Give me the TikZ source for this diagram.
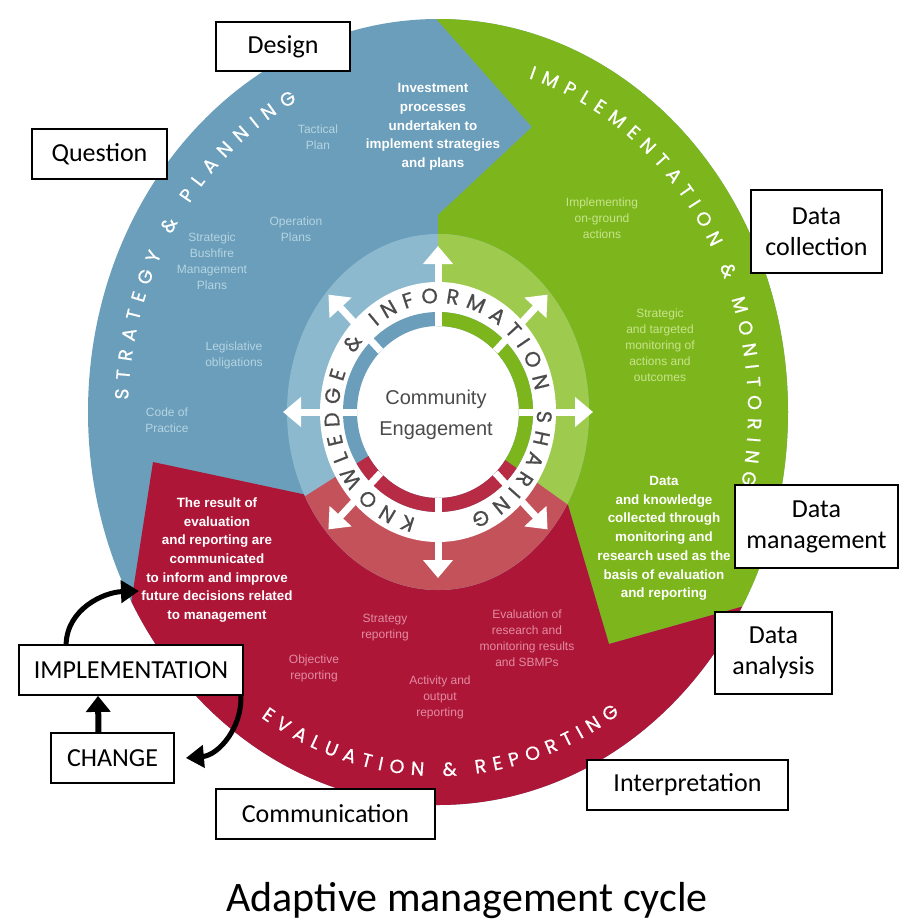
\documentclass[tikz,border=0pt]{standalone}
\usepackage{fontspec}
\setmainfont{Liberation Sans}
\newfontfamily\boxfont{Carlito}
\newfontfamily\capfont{Poppins}[FakeBold=0.7]
\usetikzlibrary{arrows.meta,decorations.text}

\definecolor{planblue}{RGB}{106,158,186}
\definecolor{actgreen}{RGB}{125,182,28}
\definecolor{evalred}{RGB}{174,22,56}
\definecolor{lightblue}{RGB}{140,185,205}
\definecolor{lightgreen}{RGB}{158,203,78}
\definecolor{lightred}{RGB}{196,82,90}
\definecolor{bandred}{RGB}{184,43,68}
\definecolor{ringgray}{RGB}{75,75,75}
\definecolor{paleblue}{RGB}{182,212,226}
\definecolor{palegreen}{RGB}{200,228,140}
\definecolor{palered}{RGB}{226,140,160}

\tikzset{
  stage/.style={draw=black, line width=1.8pt, fill=white, align=center, inner sep=0pt,
    font=\boxfont\fontsize{26}{31}\selectfont},
  note/.style={align=center, inner sep=0pt, text=#1, font=\fontsize{12}{16}\selectfont},
  lead/.style={align=center, inner sep=0pt, text=white, font=\bfseries\fontsize{13.4}{18.7}\selectfont},
  spoke/.style={draw=white, line width=7pt, -{Triangle[length=18pt,width=29pt]}},
  turn/.style={line width=5pt, -{Triangle[length=18pt,width=22pt]}},
  arctext/.style 2 args={decorate, decoration={text along path, text align={fit to path},
    text color=#1, text={#2}}}
}

\begin{document}
\begin{tikzpicture}[x=1pt, y=1pt]
  \useasboundingbox (0,0) rectangle (908,-922);

  \begin{scope}[shift={(438,-412)}]
    \fill[planblue] (0,0) ellipse[x radius=350, y radius=393];
    \begin{scope}
      \clip (0,0) ellipse[x radius=350, y radius=393];
      \fill[actgreen] (0,0) -- (0,197) -- (94,285) -- (-23,417) -- (470,417) -- (470,-148)
        -- (171,-232) -- (130,-93) -- cycle;
      \fill[evalred] (0,0) -- (130,-93) -- (171,-232) -- (470,-148) -- (470,-540)
        -- (-361,-540) -- (-285,-50) -- (-131,-83) -- cycle;
    \end{scope}

    \fill[lightblue] (0,0) ellipse[x radius=151, y radius=178];
    \begin{scope}
      \clip (0,0) ellipse[x radius=151, y radius=178];
      \fill[lightgreen] (0,0) -- (0,200) -- (210,200) -- (210,-150) -- cycle;
      \fill[lightred] (0,0) -- (210,-150) -- (210,-200) -- (-210,-200) -- (-210,-133) -- cycle;
    \end{scope}

    \fill[white] (0,0) ellipse[x radius=118, y radius=130];
    \begin{scope}[even odd rule]
      \clip (0,0) ellipse[x radius=95, y radius=100] (0,0) ellipse[x radius=81, y radius=86];
      \fill[planblue] (-120,-120) rectangle (120,120);
      \fill[actgreen] (0,0) -- (0,200) -- (210,200) -- (210,-150) -- cycle;
      \fill[bandred] (0,0) -- (210,-150) -- (210,-200) -- (-210,-200) -- (-210,-133) -- cycle;
    \end{scope}

    \foreach \a in {0,45,...,315}
      \draw[spoke] (\a:81 and 86) -- (\a:155 and 166);

    \path[arctext={ringgray}{|\capfont\fontsize{21}{21}\selectfont|KNOWLEDGE {\&} INFORMATION SHARING}]
      (257:99 and 109) arc[start angle=257, end angle=-71, x radius=99, y radius=109];

    \path[arctext={white}{|\capfont\fontsize{19}{19}\selectfont|STRATEGY {\&} PLANNING}]
      (178:310 and 349) arc[start angle=178, end angle=117, x radius=310, y radius=349];
    \path[arctext={white}{|\capfont\fontsize{19}{19}\selectfont|IMPLEMENTATION {\&} MONITORING}]
      (73:310 and 349) arc[start angle=73, end angle=-12, x radius=310, y radius=349];
    \path[arctext={white}{|\capfont\fontsize{19}{19}\selectfont|EVALUATION {\&} REPORTING}]
      (237:325 and 364) arc[start angle=237, end angle=304, x radius=325, y radius=364];
  \end{scope}

  \node[font=\fontsize{20}{31}\selectfont, text=ringgray, align=center, inner sep=0pt] (ce) at (436,-415)
    {Community\\Engagement};

  \node[note=paleblue] (tac) at (318,-137) {Tactical\\Plan};
  \node[note=paleblue] (op) at (296,-229) {Operation\\Plans};
  \node[note=paleblue] (sbmp) at (212,-261) {Strategic\\Bushfire\\Management\\Plans};
  \node[note=paleblue] (leg) at (234,-355) {Legislative\\obligations};
  \node[note=paleblue] (code) at (167,-420) {Code of\\Practice};
  \node[lead] (inv) at (433,-127) {Investment\\processes\\undertaken to\\implement strategies\\and plans};

  \node[note=palegreen] (impg) at (602,-218) {Implementing\\on-ground\\actions};
  \node[note=palegreen] (mon) at (660,-345) {Strategic\\and targeted\\monitoring of\\actions and\\outcomes};
  \node[lead] (know) at (664,-538.5) {Data\\and knowledge\\collected through\\monitoring and\\research used as the\\basis of evaluation\\and reporting};

  \node[lead] (result) at (217,-560) {The result of\\evaluation\\and reporting are\\communicated\\to inform and improve\\future decisions related\\to management};
  \node[note=palered] (srep) at (385,-627.5) {Strategy\\reporting};
  \node[note=palered] (orep) at (314,-668.5) {Objective\\reporting};
  \node[note=palered] (arep) at (440,-697) {Activity and\\output\\reporting};
  \node[note=palered] (erep) at (527,-638) {Evaluation of\\research and\\monitoring results\\and SBMPs};

  \node[stage, minimum width=134pt, minimum height=49pt] (design) at (283,-46.5) {Design};
  \node[stage, minimum width=135pt, minimum height=50pt] (quest) at (99.5,-154) {Question};
  \node[stage, minimum width=131pt, minimum height=83pt] (dcol) at (816.5,-231.5) {Data\\collection};
  \node[stage, minimum width=163pt, minimum height=83pt] (dman) at (816.5,-526.5) {Data\\management};
  \node[stage, minimum width=117pt, minimum height=82pt] (dana) at (773.5,-653) {Data\\analysis};
  \node[stage, minimum width=201pt, minimum height=50pt] (interp) at (687.5,-785) {Interpretation};
  \node[stage, minimum width=219pt, minimum height=50pt] (comm) at (325.5,-814) {Communication};
  \node[stage, minimum width=224pt, minimum height=50pt] (impl) at (131,-670) {IMPLEMENTATION};
  \node[stage, minimum width=123pt, minimum height=50pt] (chg) at (112.5,-758) {CHANGE};

  \node[font=\boxfont\fontsize{42}{50}\selectfont, anchor=base] (title) at (467,-911) {Adaptive management cycle};

  \coordinate (res) at (139,-591);
  \path[turn]
  ([xshift=48pt]impl.north west) edge[out=88, in=182] (res)
  ([xshift=-3pt]impl.south east) edge[out=-88, in=5] ([xshift=11pt]chg.east)
  ([xshift=-14pt]chg.north) edge[line width=6pt, -{Triangle[length=16pt,width=24pt]}] ([xshift=-33pt]impl.south);
\end{tikzpicture}
\end{document}
